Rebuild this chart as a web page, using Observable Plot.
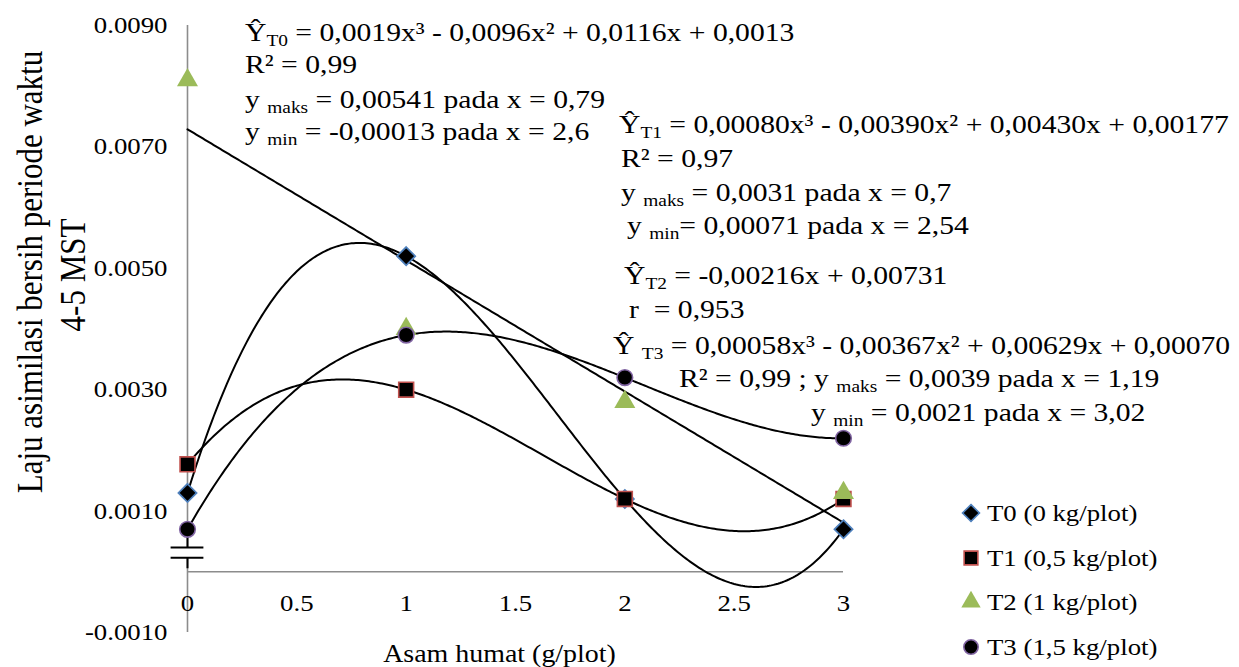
<!DOCTYPE html>
<html><head><meta charset="utf-8">
<script src="https://cdn.jsdelivr.net/npm/d3@7"></script>
<script src="https://cdn.jsdelivr.net/npm/@observablehq/plot@0.6"></script>
<style>
html,body{margin:0;padding:0;background:#fff;}
#chart{width:1239px;height:667px;overflow:hidden;}
</style></head><body><div id="chart"></div>
<script>
// ---------- data ----------
const xVals = [0, 1, 2, 3];
const seriesKeys = ["T0", "T1", "T2", "T3"];
const seriesNames = ["T0 (0 kg/plot)", "T1 (0,5 kg/plot)", "T2 (1 kg/plot)", "T3 (1,5 kg/plot)"];
const T0 = [0.0013, 0.0052, 0.0012, 0.0007];
const T1 = [0.00177, 0.0030, 0.0012, 0.0012];
const T2 = [0.0081, 0.0040, 0.0028, 0.0013];
const T3 = [0.0007, 0.0039, 0.0032, 0.0022];
const seriesValues = [T0, T1, T2, T3];
const trendDegree = [3, 3, 1, 3];
const yTicks = [-0.001, 0.001, 0.003, 0.005, 0.007, 0.009];
const yTickLabels = ["-0.0010", "0.0010", "0.0030", "0.0050", "0.0070", "0.0090"];
const xTicks = [0, 0.5, 1, 1.5, 2, 2.5, 3];
const xTickLabels = ["0", "0.5", "1", "1.5", "2", "2.5", "3"];
const xTitle = "Asam humat (g/plot)";
const yTitle = ["Laju asimilasi bersih periode waktu", "4-5 MST"];
// equation annotation lines: [text, kind] segments
const eqLines = [
  [["Ŷ",""],["T0","sub"],[" = 0,0019x³ - 0,0096x² + 0,0116x + 0,0013",""]],
  [["R² = 0,99",""]],
  [["y ",""],["maks","sub"],[" = 0,00541 pada x = 0,79",""]],
  [["y ",""],["min","sub"],[" = -0,00013 pada x = 2,6",""]],
  [["Ŷ",""],["T1","sub"],[" = 0,00080x³ - 0,00390x² + 0,00430x + 0,00177",""]],
  [["R² = 0,97",""]],
  [["y ",""],["maks","sub"],[" = 0,0031 pada x = 0,7",""]],
  [["y ",""],["min","sub"],["= 0,00071 pada x = 2,54",""]],
  [["Ŷ",""],["T2","sub"],[" = -0,00216x + 0,00731",""]],
  [["r  = 0,953",""]],
  [["Ŷ ",""],["T3","sub"],[" = 0,00058x³ - 0,00367x² + 0,00629x + 0,00070",""]],
  [["R² = 0,99 ; y ",""],["maks","sub"],[" = 0,0039 pada x = 1,19",""]],
  [["y ",""],["min","sub"],[" = 0,0021 pada x = 3,02",""]]
];

// ---------- layout / style (not data) ----------
const eqLayout = [[245,41],[245,73],[245,108],[245,140],
                  [619,133],[621,167],[621,201],[627,234],
                  [624,284],[629,318],[613,354],[679,387],[811,421]];
const legendLayout = {x: 971, rows: [513, 558, 602, 647], textX: 987};
const FONT = "'Liberation Serif','Times New Roman',serif";
const STRETCH = 1.14;
const styles = [
  {symbol: "diamond2", r: 8.2, fill: "#000", stroke: "#4f81bd", strokeWidth: 1.7},
  {symbol: "square", r: 8.4, fill: "#000", stroke: "#c0504d", strokeWidth: 1.6},
  {symbol: "triangle", r: 7.8, fill: "#9bbb59", stroke: "none", strokeWidth: 0},
  {symbol: "circle", r: 7.8, fill: "#000", stroke: "#8064a2", strokeWidth: 1.6}
];
const breakLow = 0.00023, breakHigh = 0.0004, breakHalf = 0.075;

// ---------- least squares polynomial trendline ----------
function polyfit(xs, ys, deg) {
  const n = deg + 1;
  const A = Array.from({length: n}, () => new Array(n).fill(0));
  const b = new Array(n).fill(0);
  xs.forEach((x, k) => {
    for (let i = 0; i < n; i++) {
      for (let j = 0; j < n; j++) A[i][j] += Math.pow(x, i + j);
      b[i] += ys[k] * Math.pow(x, i);
    }
  });
  for (let i = 0; i < n; i++) {
    let p = i;
    for (let r = i + 1; r < n; r++) if (Math.abs(A[r][i]) > Math.abs(A[p][i])) p = r;
    [A[i], A[p]] = [A[p], A[i]]; [b[i], b[p]] = [b[p], b[i]];
    for (let r = i + 1; r < n; r++) {
      const f = A[r][i] / A[i][i];
      for (let c = i; c < n; c++) A[r][c] -= f * A[i][c];
      b[r] -= f * b[i];
    }
  }
  const coef = new Array(n).fill(0);
  for (let i = n - 1; i >= 0; i--) {
    let s = b[i];
    for (let c = i + 1; c < n; c++) s -= A[i][c] * coef[c];
    coef[i] = s / A[i][i];
  }
  return coef;
}
const points = seriesKeys.flatMap((k, si) => xVals.map((x, i) => ({series: k, x, y: seriesValues[si][i]})));
const trend = seriesKeys.flatMap((k, si) => {
  const c = polyfit(xVals, seriesValues[si], trendDegree[si]);
  const lo = d3.min(xVals), hi = d3.max(xVals);
  return d3.range(lo, hi + 1e-9, (hi - lo) / 300).map(x => ({series: k, x, y: c.reduce((s, ci, i) => s + ci * Math.pow(x, i), 0)}));
});

const plot = Plot.plot({
  width: 1239, height: 667,
  marginLeft: 187, marginRight: 396, marginTop: 25, marginBottom: 35,
  style: {fontFamily: FONT, background: "#fff", color: "#000", overflow: "visible"},
  x: {domain: [0, 3], axis: null},
  y: {domain: [-0.001, 0.009], axis: null},
  marks: [
    Plot.ruleX([0], {y1: -0.001, y2: 0.009, stroke: "#8c8c8c", strokeWidth: 1.6}),
    Plot.ruleY([0], {x1: 0, x2: 3, stroke: "#8c8c8c", strokeWidth: 1.6}),
    Plot.axisY(yTicks, {anchor: "left", tickSize: 0, tickPadding: 20, fontSize: 23.5, fill: "#000",
      tickFormat: d => yTickLabels[yTicks.indexOf(d)], label: null}),
    Plot.text(xTicks, {x: d => d, y: 0, dy: 32, text: d => xTickLabels[xTicks.indexOf(d)], fontSize: 23.5, fill: "#000"}),
    Plot.text([xTitle], {frameAnchor: "bottom", dx: -16, dy: 29, fontSize: 24.5, fill: "#000"}),
    // axis break symbol
    Plot.ruleX([0], {y1: breakLow, y2: breakHigh, stroke: "#fff", strokeWidth: 4}),
    Plot.ruleX([0], {y1: breakHigh, y2: d3.min(seriesValues.map(s => s[0])), stroke: "#000", strokeWidth: 2}),
    Plot.ruleX([0], {y1: 0.00005, y2: breakLow, stroke: "#000", strokeWidth: 2}),
    Plot.ruleY([breakLow, breakHigh], {x1: -breakHalf, x2: breakHalf, stroke: "#000", strokeWidth: 2}),
    // trendlines
    Plot.line(trend, {x: "x", y: "y", z: "series", stroke: "#000", strokeWidth: 2}),
    // markers
    ...seriesKeys.map((k, si) => Plot.dot(points.filter(d => d.series === k), {x: "x", y: "y", ...styles[si]}))
  ]
});
document.getElementById("chart").append(plot);

// ---------- annotations, legend, y title ----------
const svg = d3.select(plot);
const g = svg.append("g").attr("font-family", FONT).attr("fill", "#000").attr("text-anchor", "start");
eqLines.forEach((segs, li) => {
  const [px, py] = eqLayout[li];
  const t = g.append("text").attr("x", px).attr("y", py).attr("font-size", 26);
  let shifted = false;
  segs.forEach(([s, kind]) => {
    const ts = t.append("tspan").text(s);
    if (kind === "sub") { ts.attr("font-size", 17).attr("dy", shifted ? 0 : 5); shifted = true; }
    else if (shifted) { ts.attr("dy", -5); shifted = false; }
  });
});
const sym = [d3.symbolDiamond2, d3.symbolSquare, d3.symbolTriangle, d3.symbolCircle];
seriesNames.forEach((name, i) => {
  const y = legendLayout.rows[i], st = styles[i];
  g.append("path").attr("d", d3.symbol(sym[i], Math.PI * st.r * st.r * 0.85)())
    .attr("transform", `translate(${legendLayout.x},${y})`)
    .attr("fill", st.fill).attr("stroke", st.stroke).attr("stroke-width", st.strokeWidth);
  g.append("text").attr("x", legendLayout.textX).attr("y", y).attr("dy", "0.35em").attr("font-size", 23.5).text(name);
});
[[30, 272], [73, 275]].forEach(([cx, cy], i) => {
  g.append("text").attr("class", "nostretch")
    .attr("transform", `translate(${cx},${cy}) scale(${STRETCH},1) rotate(-90)`)
    .attr("text-anchor", "middle").attr("dy", "0.35em").attr("font-size", 31).text(yTitle[i]);
});
svg.selectAll("text").each(function() {
  if (this.classList.contains("nostretch")) return;
  const L = this.getComputedTextLength();
  if (L > 0) { this.setAttribute("textLength", (L * STRETCH).toFixed(1)); this.setAttribute("lengthAdjust", "spacingAndGlyphs"); }
});
</script></body></html>
